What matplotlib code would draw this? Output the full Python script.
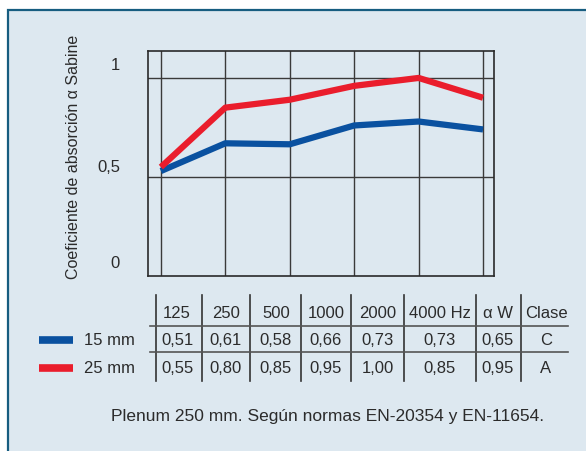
import matplotlib.pyplot as plt
from matplotlib.patches import Rectangle
from matplotlib.lines import Line2D

plt.rcParams['font.family'] = ['Liberation Sans', 'DejaVu Sans']

freqs = ['125', '250', '500', '1000', '2000', '4000 Hz']
# curve values as drawn on the chart
curve_15 = [0.53, 0.67, 0.665, 0.76, 0.78, 0.74]
curve_25 = [0.55, 0.85, 0.89, 0.96, 1.00, 0.90]
# values printed in the table
table_15 = ['0,51', '0,61', '0,58', '0,66', '0,73', '0,73', '0,65', 'C']
table_25 = ['0,55', '0,80', '0,85', '0,95', '1,00', '0,85', '0,95', 'A']
header = ['125', '250', '500', '1000', '2000', '4000 Hz', 'α W', 'Clase']
series = ['15 mm', '25 mm']
colors = ['#0a51a0', '#ea1d2c']

W, H = 586, 452
bg = '#dde8f0'
txt = '#2b2b2b'

fig = plt.figure(figsize=(W / 100, H / 100), dpi=100)
fig.patch.set_facecolor('white')


def fx(x):
    return x / W


def fy(y):
    return 1 - y / H


# panel with border
fig.patches.append(Rectangle((fx(8), fy(470)), fx(600) - fx(8), fy(11) - fy(470),
                             transform=fig.transFigure, facecolor=bg,
                             edgecolor='#175d80', lw=1.6, zorder=-5))

ax = fig.add_axes([fx(148), fy(277), fx(494) - fx(148), fy(52) - fy(277)])
ax.set_zorder(2)
ax.set_facecolor(bg)
x = range(len(freqs))
ax.plot(x, curve_15, color=colors[0], lw=4.5, solid_capstyle='butt', zorder=3)
ax.plot(x, curve_25, color=colors[1], lw=4.5, solid_capstyle='butt', zorder=3)
ax.set_xlim(-0.2, 5.17)
ax.set_ylim(0, 1.136)
ax.set_xticks(list(x))
ax.set_yticks([0.5, 1])
ax.tick_params(length=0, labelbottom=False, labelleft=False)
ax.grid(True, color='#3a3a3a', lw=1)
for s in ax.spines.values():
    s.set_color('#2a2a2a')
    s.set_linewidth(1.2)

for lab, yv in [('1', 66), ('0,5', 168), ('0', 264)]:
    fig.text(fx(120), fy(yv), lab, ha='right', va='center', fontsize=12, color=txt)

fig.text(fx(73), fy(157), 'Coeficiente de absorción α Sabine', rotation=90,
         ha='center', va='center', fontsize=11.5, color=txt)

# table
vlines = [156, 202, 250, 301, 351, 404, 476, 521]
for vx in vlines:
    fig.add_artist(Line2D([fx(vx), fx(vx)], [fy(296), fy(382)], transform=fig.transFigure,
                          color='#333333', lw=1.2))
for hy in [327, 353]:
    fig.add_artist(Line2D([fx(150), fx(568)], [fy(hy), fy(hy)], transform=fig.transFigure,
                          color='#555555', lw=1.2))

col_x = [177, 226, 276, 326, 378, 440, 498, 546]
for cx, h, a, b in zip(col_x, header, table_15, table_25):
    fig.text(fx(cx), fy(313), h, ha='center', va='center', fontsize=12, color=txt)
    fig.text(fx(cx), fy(341), a, ha='center', va='center', fontsize=12, color=txt)
    fig.text(fx(cx), fy(369), b, ha='center', va='center', fontsize=12, color=txt)

# legend
for ry, name, c in zip([341, 369], series, colors):
    fig.add_artist(Line2D([fx(39), fx(73)], [fy(ry), fy(ry)], transform=fig.transFigure,
                          color=c, lw=5.5, solid_capstyle='butt'))
    fig.text(fx(84), fy(ry), name, ha='left', va='center', fontsize=12, color=txt)

fig.text(fx(328), fy(417), 'Plenum 250 mm. Según normas EN-20354 y EN-11654.',
         ha='center', va='center', fontsize=12.5, color=txt)

fig.savefig('out.png', dpi=100, facecolor=fig.get_facecolor())
